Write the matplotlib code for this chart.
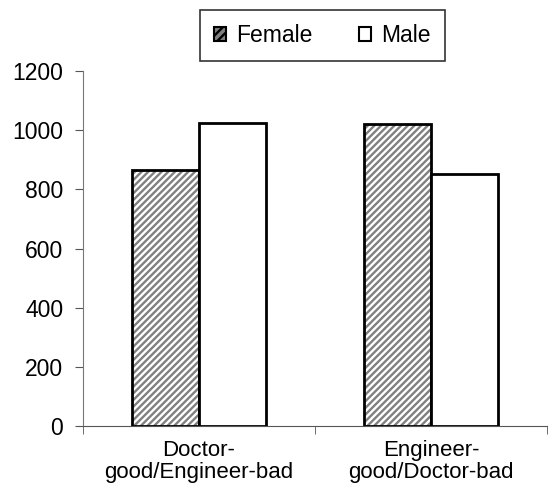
import matplotlib.pyplot as plt
import numpy as np
from matplotlib.patches import Patch

plt.rcParams['font.family'] = ['Liberation Sans', 'DejaVu Sans']
plt.rcParams['hatch.linewidth'] = 1.7

# data
categories = ["Doctor-\ngood/Engineer-bad", "Engineer-\ngood/Doctor-bad"]
female = [866, 1022]
male = [1024, 853]
yticks = [0, 200, 400, 600, 800, 1000, 1200]

fs = 16.5
fig = plt.figure(figsize=(5.52, 4.9), dpi=100)
ax = fig.add_axes([0.150, 0.1306, 0.841, 0.7245])

x = np.arange(len(categories))
w = 0.29
# hatch layer in gray, then black outline on top
ax.bar(x - w / 2, female, w, color='white', edgecolor='#808080', linewidth=0,
       hatch='/////')
ax.bar(x - w / 2, female, w, fill=False, edgecolor='black', linewidth=2)
ax.bar(x + w / 2, male, w, color='white', edgecolor='black', linewidth=2)

ax.set_xlim(-0.5, 1.5)
ax.set_ylim(0, 1200)
ax.set_yticks(yticks)
ax.set_xticks(x)
ax.set_xticklabels(categories, linespacing=1.05, fontsize=16)
ax.set_xticks([-0.5, 0.5, 1.5], minor=True)
ax.tick_params(axis='x', which='major', length=0, pad=10)
ax.tick_params(axis='x', which='minor', length=6, color='#555555')
ax.tick_params(axis='y', length=6, color='#555555', pad=8, labelsize=fs)

ax.spines['top'].set_visible(False)
ax.spines['right'].set_visible(False)
ax.spines['left'].set_color('#777777')
ax.spines['bottom'].set_color('#555555')

# legend handles
handles = [Patch(facecolor='#808080', edgecolor='black', linewidth=1.5, hatch='////'),
           Patch(facecolor='white', edgecolor='black', linewidth=1.5)]
leg = ax.legend(handles, ['Female', 'Male'], loc='center',
                bbox_to_anchor=(0.516, 1.10), ncol=2, fontsize=fs,
                frameon=True, fancybox=False, edgecolor='black',
                handlelength=0.55, handleheight=0.55, handletextpad=0.45,
                columnspacing=2.0, borderpad=0.6, borderaxespad=0)
leg.get_frame().set_linewidth(1.2)

fig.savefig('out.png', dpi=100)
